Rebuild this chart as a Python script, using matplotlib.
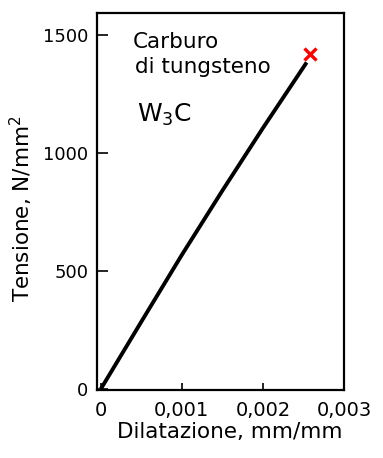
import matplotlib
matplotlib.use("Agg")
import matplotlib.pyplot as plt

# curva tensione-deformazione W3C
strain = [0.0, 0.0005, 0.001, 0.0015, 0.002, 0.00254]
stress = [0, 285, 568, 840, 1105, 1383]
rupture = (0.00258, 1418)

x_ticks = [0, 0.001, 0.002, 0.003]
x_labels = ["0", "0,001", "0,002", "0,003"]
y_ticks = [0, 500, 1000, 1500]
y_labels = ["0", "500", "1000", "1500"]

plt.rcParams["font.family"] = ["DejaVu Sans"]
plt.rcParams["mathtext.default"] = "regular"

fig = plt.figure(figsize=(3.83, 4.58), dpi=100)
ax = fig.add_axes([0.253, 0.148, 0.645, 0.824])

ax.plot(strain, stress, color="black", lw=2.8, solid_capstyle="butt")
ax.plot(*rupture, marker="x", color="red", ms=9, mew=2.4, linestyle="none")

ax.set_xlim(-0.000048, 0.00289)
ax.set_ylim(-5, 1593)

ax.set_xticks(x_ticks)
ax.set_xticklabels(x_labels)
ax.set_yticks(y_ticks)
ax.set_yticklabels(y_labels)
ax.tick_params(axis="x", direction="in", length=5, width=1.2,
               labelsize=14, pad=8)
ax.tick_params(axis="y", direction="in", length=8, width=1.2,
               labelsize=13, pad=6)

for s in ax.spines.values():
    s.set_linewidth(1.6)

ax.set_xlabel("Dilatazione, mm/mm", fontsize=15.5, va="top")
ax.xaxis.set_label_coords(0.538, -0.085)
ax.set_ylabel("Tensione, N/mm$^2$", fontsize=15.5)
ax.yaxis.set_label_coords(-0.252, 0.48)

ax.text(0.146, 0.907, "Carburo", transform=ax.transAxes,
        fontsize=15.5, va="baseline", ha="left")
ax.text(0.154, 0.841, "di tungsteno", transform=ax.transAxes,
        fontsize=15.5, va="baseline", ha="left")
ax.text(0.162, 0.711, "W$_3$C", transform=ax.transAxes,
        fontsize=18, va="baseline", ha="left")

fig.savefig("out.png", dpi=100)
